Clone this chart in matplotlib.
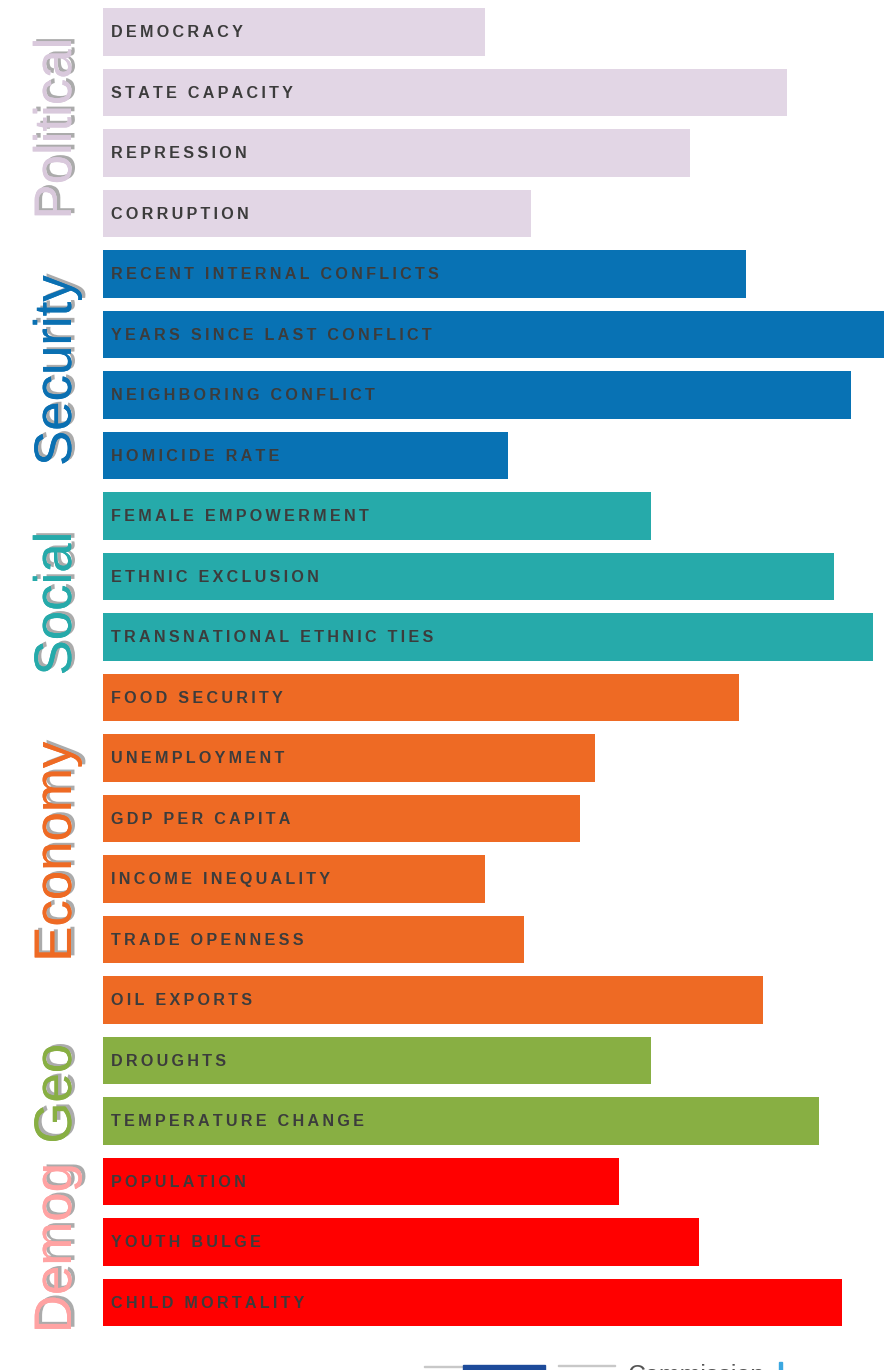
import matplotlib.pyplot as plt
from matplotlib import patheffects
from matplotlib.patches import Rectangle

factors = ['DEMOCRACY', 'STATE CAPACITY', 'REPRESSION', 'CORRUPTION',
           'RECENT INTERNAL CONFLICTS', 'YEARS SINCE LAST CONFLICT', 'NEIGHBORING CONFLICT', 'HOMICIDE RATE',
           'FEMALE EMPOWERMENT', 'ETHNIC EXCLUSION', 'TRANSNATIONAL ETHNIC TIES',
           'FOOD SECURITY', 'UNEMPLOYMENT', 'GDP PER CAPITA', 'INCOME INEQUALITY', 'TRADE OPENNESS', 'OIL EXPORTS',
           'DROUGHTS', 'TEMPERATURE CHANGE',
           'POPULATION', 'YOUTH BULGE', 'CHILD MORTALITY']
groups = ['Political'] * 4 + ['Security'] * 4 + ['Social'] * 3 + ['Economy'] * 6 + ['Geo'] * 2 + ['Demog'] * 3
values = [382, 684, 587, 428,
          643, 781, 748, 405,
          548, 731, 770,
          636, 492, 477, 382, 421, 660,
          548, 716,
          516, 596, 739]

group_names = ['Political', 'Security', 'Social', 'Economy', 'Geo', 'Demog']
bar_colors = {'Political': '#e2d6e5', 'Security': '#0872b4', 'Social': '#26aaaa',
              'Economy': '#ee6a24', 'Geo': '#88af43', 'Demog': '#ff0000'}
title_colors = {'Political': '#d9c9dc', 'Security': '#0a70b2', 'Social': '#26aaaa',
                'Economy': '#ee6a24', 'Geo': '#88af43', 'Demog': '#ffa3a3'}
# where the rotated group names sit (row units)
title_pos = {'Political': 1.6, 'Security': 5.6, 'Social': 9.45,
             'Economy': 13.55, 'Geo': 17.55, 'Demog': 20.1}

fig = plt.figure(figsize=(8.84, 13.70), dpi=100)
ax = fig.add_axes([103 / 884, 37.25 / 1370, 781 / 884, 1331 / 1370])

n = len(factors)
ax.barh(range(n), values, height=0.793, color=[bar_colors[g] for g in groups], left=0)
ax.set_xlim(0, 781)
ax.set_ylim(n - 0.5, -0.5)
ax.axis('off')

font = ['Liberation Sans', 'DejaVu Sans']
for i, name in enumerate(factors):
    spaced = '\u2009'.join(list(name))
    ax.text(8, i + 0.09, spaced, va='baseline', ha='left', fontsize=11.6, fontweight='bold',
            color='#3c3c3c', family=font)

shadow = [patheffects.withSimplePatchShadow(offset=(2.5, 1.5), shadow_rgbFace='#666666', alpha=0.55),
          patheffects.Normal()]
for g in group_names:
    ax.text(-32, title_pos[g], g, rotation=90, rotation_mode='anchor', ha='center', va='baseline',
            fontsize=38, color=title_colors[g], family=font, clip_on=False, path_effects=shadow)

# cut-off logo strip at the bottom
fig.add_artist(Rectangle((424 / 884, 3 / 1370), 39 / 884, 1.5 / 1370, color='#c8c8c8', transform=fig.transFigure))
fig.add_artist(Rectangle((463 / 884, 0), 82 / 884, 5 / 1370, color='#1d4b9a', transform=fig.transFigure))
fig.add_artist(Rectangle((558 / 884, 4 / 1370), 57 / 884, 1.5 / 1370, color='#c8c8c8', transform=fig.transFigure))
fig.add_artist(Rectangle((779 / 884, 0), 3 / 884, 8 / 1370, color='#3ba7e0', transform=fig.transFigure))
fig.text(628 / 884, -13 / 1370, 'Commission', fontsize=18, va='baseline', ha='left', color='#555555', family=font)

fig.savefig('out.png', dpi=100)
